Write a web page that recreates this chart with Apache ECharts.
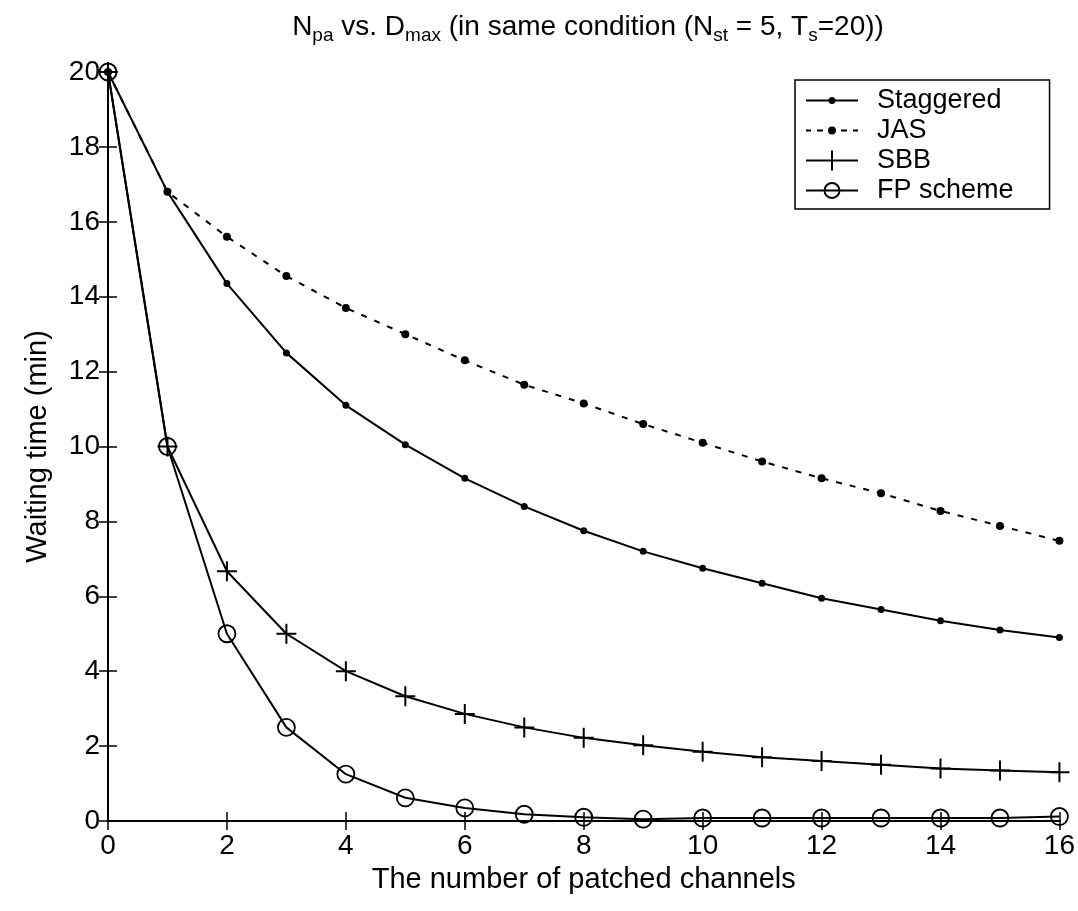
<!DOCTYPE html>
<html>
<head>
<meta charset="utf-8">
<script src="https://cdn.jsdelivr.net/npm/echarts@6/dist/echarts.min.js"></script>
<style>
  html, body { margin: 0; padding: 0; background: #fff; }
  #chart { width: 1078px; height: 911px; }
</style>
</head>
<body>
<div id="chart"></div>
<script>
// number of patched channels
const channels = [0, 1, 2, 3, 4, 5, 6, 7, 8, 9, 10, 11, 12, 13, 14, 15, 16];
// waiting time (min)
const staggered = [20, 16.8, 14.35, 12.5, 11.1, 10.05, 9.15, 8.4, 7.75, 7.2, 6.75, 6.35, 5.95, 5.65, 5.35, 5.1, 4.9];
const jas = [20, 16.8, 15.6, 14.55, 13.7, 13.0, 12.3, 11.65, 11.15, 10.6, 10.1, 9.6, 9.15, 8.75, 8.28, 7.88, 7.48];
const sbb = [20, 10, 6.67, 5, 4, 3.33, 2.86, 2.5, 2.22, 2.02, 1.85, 1.7, 1.6, 1.5, 1.4, 1.35, 1.3];
const fp = [20, 10, 5, 2.5, 1.25, 0.62, 0.35, 0.18, 0.1, 0.05, 0.08, 0.08, 0.08, 0.08, 0.08, 0.08, 0.12];

const font = 'Liberation Sans, Arial, sans-serif';
const tickFont = 'Liberation Sans Narrow, Liberation Sans, sans-serif';
const plus = 'path://M-1,-10h2v20h-2zM-10,-1h20v2h-20z';

// legend icons: line + marker, 52 wide
const iconStag = 'path://M0,-1h52v2h-52zM22.5,0a3.5,3.5 0 1,1 7,0a3.5,3.5 0 1,1 -7,0z';
const iconJas = 'path://M0,-1h5v2h-5zM11,-1h6v2h-6zM22,0a4,4 0 1,1 8,0a4,4 0 1,1 -8,0zM35,-1h6v2h-6zM47,-1h5v2h-5z';
const iconSbb = 'path://M0,-1h52v2h-52zM25,-10h2v20h-2z';
const iconFp = 'path://M0,-1h52v2h-52zM17.5,0a8.5,8.5 0 1,1 17,0a8.5,8.5 0 1,1 -17,0zM19.5,0a6.5,6.5 0 1,0 13,0a6.5,6.5 0 1,0 -13,0z';

function pairs(ys) {
    return channels.map((x, i) => [x, ys[i]]);
}

function lineSeries(name, data, opts) {
    return Object.assign({
        name: name,
        type: 'line',
        data: pairs(data),
        symbol: 'circle',
        symbolSize: 7,
        showAllSymbol: true,
        clip: false,
        color: '#000',
        lineStyle: { color: '#000', width: 2 },
        itemStyle: { color: '#000', borderColor: '#000', borderWidth: 0 },
        emphasis: { disabled: true },
        z: 3
    }, opts);
}

const eChart = window.echarts.init(document.getElementById('chart'));
const tickLabel = { color: '#000', fontSize: 28, fontFamily: tickFont };
const iconStyle = { color: '#000', borderWidth: 0 };

const option = {
    animation: false,
    backgroundColor: '#fff',
    title: {
        text: 'N{sub|pa} vs. D{sub|max} (in same condition (N{sub|st} = 5, T{sub|s}=20))',
        left: 583,
        textAlign: 'center',
        top: 4,
        textStyle: {
            color: '#000',
            fontSize: 28,
            fontWeight: 'normal',
            fontFamily: font,
            lineHeight: 36,
            rich: {
                sub: { fontSize: 19, fontFamily: font, color: '#000', lineHeight: 14, verticalAlign: 'bottom' }
            }
        }
    },
    grid: { left: 108, right: 10, top: 72, bottom: 90 },
    legend: {
        orient: 'vertical',
        left: 795,
        top: 80,
        itemWidth: 52,
        itemHeight: 22,
        itemGap: 3,
        padding: [7, 36, 5, 11],
        backgroundColor: '#fff',
        borderColor: '#000',
        borderWidth: 1.5,
        borderRadius: 0,
        textStyle: { color: '#000', fontSize: 27, fontFamily: font, padding: [0, 0, 0, 14] },
        data: [
            { name: 'Staggered', icon: iconStag, itemStyle: iconStyle },
            { name: 'JAS', icon: iconJas, itemStyle: iconStyle },
            { name: 'SBB', icon: iconSbb, itemStyle: iconStyle },
            { name: 'FP scheme', icon: iconFp, itemStyle: iconStyle }
        ]
    },
    xAxis: [
        {
            type: 'value',
            min: 0,
            max: 16,
            interval: 2,
            name: 'The number of patched channels',
            nameLocation: 'middle',
            nameGap: 44,
            nameTextStyle: { color: '#000', fontSize: 29, fontFamily: font },
            axisLine: { lineStyle: { color: '#000', width: 2 } },
            axisTick: { inside: true, length: 9, lineStyle: { color: '#000', width: 1.5 } },
            axisLabel: Object.assign({ margin: 11 }, tickLabel),
            splitLine: { show: false }
        },
        {
            type: 'value',
            position: 'top',
            min: 0,
            max: 16,
            interval: 2,
            axisLine: { lineStyle: { color: '#000', width: 2 } },
            axisTick: { inside: true, length: 9, lineStyle: { color: '#000', width: 1.5 } },
            axisLabel: { show: false },
            splitLine: { show: false }
        }
    ],
    yAxis: [
        {
            type: 'value',
            min: 0,
            max: 20,
            interval: 2,
            name: 'Waiting time (min)',
            nameLocation: 'middle',
            nameGap: 56,
            nameTextStyle: { color: '#000', fontSize: 29, fontFamily: font },
            axisLine: { lineStyle: { color: '#000', width: 2 } },
            axisTick: { inside: true, length: 9, lineStyle: { color: '#000', width: 1.5 } },
            axisLabel: Object.assign({ margin: 8 }, tickLabel),
            splitLine: { show: false }
        },
        {
            type: 'value',
            position: 'right',
            min: 0,
            max: 20,
            interval: 2,
            axisLine: { lineStyle: { color: '#000', width: 2 } },
            axisTick: { inside: true, length: 9, lineStyle: { color: '#000', width: 1.5 } },
            axisLabel: { show: false },
            splitLine: { show: false }
        }
    ],
    series: [
        lineSeries('Staggered', staggered),
        lineSeries('JAS', jas, {
            lineStyle: { color: '#000', width: 2, type: [6, 8] },
            symbolSize: 8
        }),
        lineSeries('SBB', sbb, {
            symbol: plus,
            symbolSize: 20
        }),
        lineSeries('FP scheme', fp, {
            symbolSize: 17,
            itemStyle: { color: 'rgba(0,0,0,0)', borderColor: '#000', borderWidth: 1.8 }
        })
    ]
};
eChart.setOption(option);
</script>
</body>
</html>
